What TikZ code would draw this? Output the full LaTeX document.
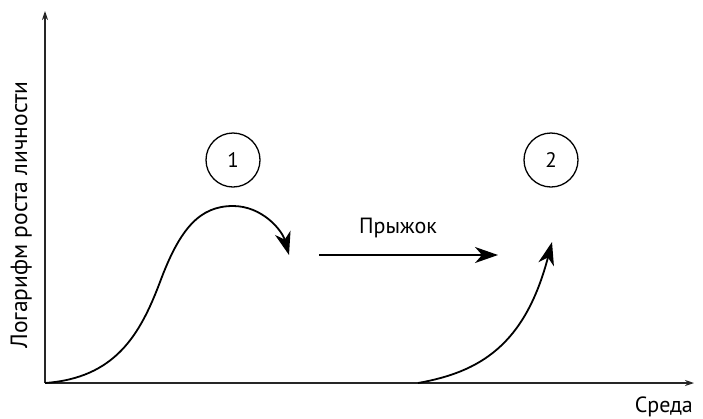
\documentclass[tikz,border=0pt]{standalone}
\usepackage{fontspec}
\setmainfont{PT Sans}
\usetikzlibrary{arrows.meta}
\begin{document}
\begin{tikzpicture}[x=1pt,y=-1pt,
  axis/.style={line width=1.1pt,draw=black!85,-{Stealth[length=9pt,width=6pt]}},
  curve/.style={line width=1.8pt,-{Stealth[length=23pt,width=16pt,inset=7pt]}},
  num/.style={draw,circle,line width=1.3pt,minimum size=54pt,inner sep=0pt,font=\fontsize{21}{25}\selectfont},
  lbl/.style={font=\fontsize{22}{26}\selectfont,inner sep=0pt}]
\useasboundingbox (0,0) rectangle (703,418);
\coordinate (O) at (45,383);
\coordinate (Ytop) at (45,11);
\coordinate (Xend) at (694,383);
\draw[axis] (O) -- (Ytop);
\draw[axis] (O) -- (Xend);
\node[lbl,rotate=90,anchor=base,font=\fontsize{23.5}{27}\selectfont] (ylab) at (27,215) {Логарифм роста личности};
\node[lbl,anchor=base east] (xlab) at (693,412) {Среда};
\node[num] (c1) at (233,160) {1};
\node[num] (c2) at (551,160) {2};
\coordinate (t1) at (289,255);
\draw[curve] (O) .. controls (115,378) and (140,335) .. (160,282)
  .. controls (180,228) and (200,206) .. (233,206)
  .. controls (262,206) and (282,230) .. (t1);
\coordinate (j1) at (319,255);
\coordinate (j2) at (498,255);
\draw[curve] (j1) -- (j2);
\node[lbl,anchor=base] (jump) at (398,233) {Прыжок};
\coordinate (s2) at (418,383);
\coordinate (t2) at (552,242);
\draw[curve] (s2) .. controls (480,372) and (525,345) .. (t2);
\end{tikzpicture}
\end{document}
